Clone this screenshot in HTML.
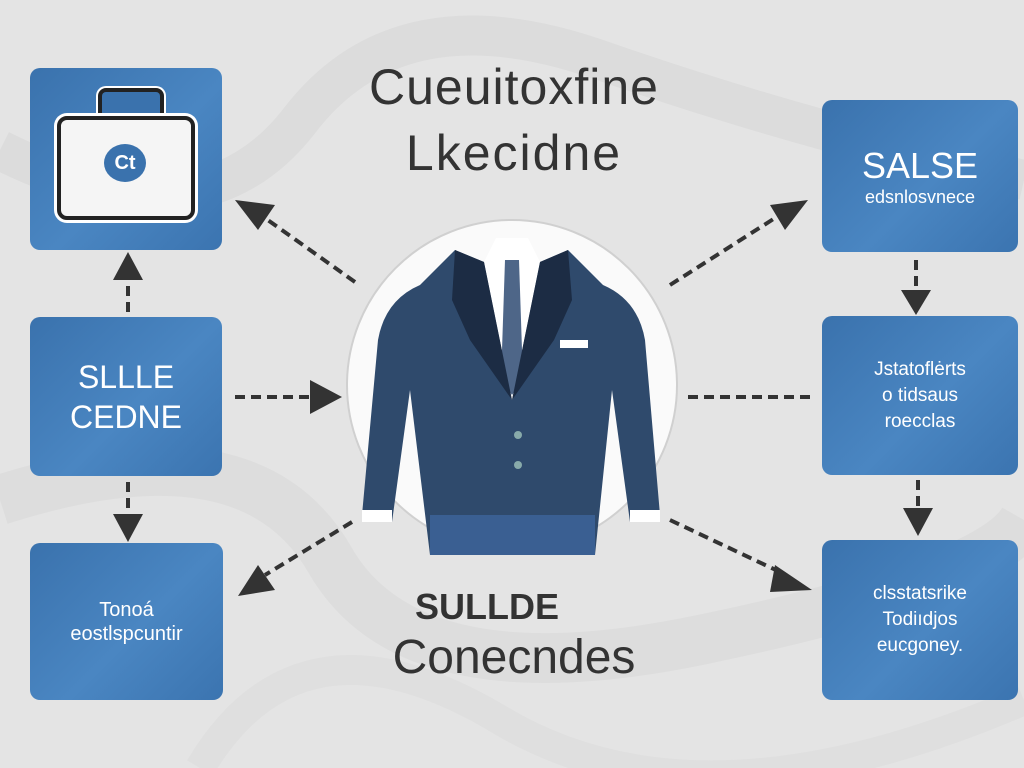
<!DOCTYPE html>
<html><head><meta charset="utf-8"><style>
body{margin:0;width:1024px;height:768px;overflow:hidden;background:#e4e4e4;font-family:"Liberation Sans",sans-serif}
.b{position:absolute;background:linear-gradient(135deg,#3a72ad,#4a86c2 55%,#3b74b0);border-radius:10px;color:#fff;display:flex;flex-direction:column;align-items:center;justify-content:center;text-align:center}
.t{position:absolute;color:#333;text-align:center;width:500px;left:264px}
</style></head><body>
<svg width="1024" height="768" style="position:absolute;left:0;top:0">
<path d="M0 150 Q200 250 300 120 T600 60 T1024 180" stroke="#dcdcdc" stroke-width="40" fill="none"/>
<path d="M0 500 Q250 420 330 560 T700 640 T1024 520" stroke="#dddddd" stroke-width="50" fill="none"/>
<path d="M200 768 Q300 600 500 720 T1024 700" stroke="#dfdfdf" stroke-width="30" fill="none"/>
<circle cx="512" cy="385" r="165" fill="#fafafa" stroke="#d0d0d0" stroke-width="2"/>
<path d="M455 250 L420 285 Q385 300 378 340 L362 515 L392 522 L410 390 L430 555 L595 555 L612 390 L630 522 L660 515 L645 340 Q638 300 603 285 L568 250 L540 262 L512 400 L484 262 Z" fill="#2f4a6c"/>
<path d="M484 262 L512 400 L540 262 L528 238 L496 238 Z" fill="#fff"/>
<path d="M505 260 L519 260 L523 380 L512 395 L501 380 Z" fill="#4e6688"/>
<path d="M455 250 L484 262 L512 400 L470 340 L452 300 Z" fill="#1c2c44"/>
<path d="M568 250 L540 262 L512 400 L554 340 L572 300 Z" fill="#1c2c44"/>
<rect x="560" y="340" width="28" height="8" fill="#fff"/>
<rect x="430" y="515" width="165" height="40" fill="#3a5f92"/>
<rect x="362" y="510" width="30" height="12" fill="#fff"/><rect x="630" y="510" width="30" height="12" fill="#fff"/>
<circle cx="518" cy="435" r="4" fill="#8aa"/><circle cx="518" cy="465" r="4" fill="#8aa"/>
<g stroke="#333" stroke-width="4" stroke-dasharray="10 6" fill="none">
<line x1="355" y1="282" x2="265" y2="218"/>
<line x1="128" y1="312" x2="128" y2="280"/>
<line x1="235" y1="397" x2="310" y2="397"/>
<line x1="128" y1="482" x2="128" y2="512"/>
<line x1="352" y1="522" x2="265" y2="575"/>
<line x1="670" y1="285" x2="775" y2="218"/>
<line x1="916" y1="260" x2="916" y2="290"/>
<line x1="688" y1="397" x2="812" y2="397"/>
<line x1="918" y1="480" x2="918" y2="508"/>
<line x1="670" y1="520" x2="780" y2="572"/>
</g>
<g fill="#333">
<polygon points="235,200 275,205 258,230"/>
<polygon points="128,252 113,280 143,280"/>
<polygon points="342,397 310,380 310,414"/>
<polygon points="128,542 113,514 143,514"/>
<polygon points="238,596 258,565 275,590"/>
<polygon points="808,200 770,205 785,230"/>
<polygon points="916,315 901,290 931,290"/>
<polygon points="918,536 903,508 933,508"/>
<polygon points="812,590 775,565 770,592"/>
</g>
</svg>
<div class="b" style="left:30px;top:68px;width:192px;height:182px;display:block">
<div style="position:absolute;left:68px;top:20px;width:58px;height:26px;border:4px solid #222;border-bottom:none;border-radius:8px 8px 0 0;background:#3a72ad;box-shadow:0 0 0 2px #fff"></div>
<div style="position:absolute;left:27px;top:48px;width:130px;height:96px;background:#f5f5f5;border:4px solid #222;border-radius:10px;box-shadow:0 0 0 3px #fff"></div>
<div style="position:absolute;left:74px;top:76px;width:42px;height:38px;border-radius:50%;background:#3a72ad;color:#fff;font-weight:bold;font-size:20px;line-height:38px;text-align:center">Ct</div>
</div>
<div class="b" style="left:30px;top:317px;width:192px;height:159px;font-size:32px;line-height:40px">SLLLE<br>CEDNE</div>
<div class="b" style="left:30px;top:543px;width:193px;height:157px;font-size:20px;line-height:24px">Tonoá<br>eostlspcuntir</div>
<div class="b" style="left:822px;top:100px;width:196px;height:152px"><div style="font-size:36px">SALSE</div><div style="font-size:18px">edsnlosvnece</div></div>
<div class="b" style="left:822px;top:316px;width:196px;height:159px;font-size:19px;line-height:26px">Jstatoflėrts<br>o tidsaus<br>roecclas</div>
<div class="b" style="left:822px;top:540px;width:196px;height:160px;font-size:19px;line-height:26px">clsstatsrike<br>Todiıdjos<br>eucgoney.</div>
<div class="t" style="top:58px;font-size:50px;letter-spacing:1px">Cueuitoxfine</div>
<div class="t" style="top:124px;font-size:50px;letter-spacing:2px">Lkecidne</div>
<div class="t" style="top:586px;font-size:36px;font-weight:bold;left:237px">SULLDE</div>
<div class="t" style="top:630px;font-size:48px">Conecndes</div>
</body></html>
